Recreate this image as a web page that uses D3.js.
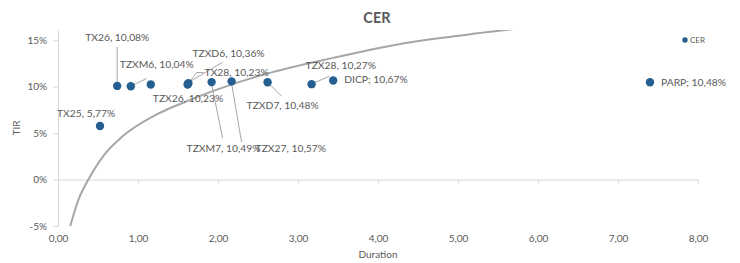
<!DOCTYPE html>
<html>
<head>
<meta charset="utf-8">
<script src="https://cdn.jsdelivr.net/npm/d3@7"></script>
<style>
	body { margin: 0; background: #fff; }
	text { font-family: Lato, "Open Sans", sans-serif; fill: #595959; }
</style>
</head>
<body>
<div id="chart"></div>
<script>
// bonds
const names = ['TX25', 'TX26', 'TZXM6', 'TZX26', 'TZXD6', 'TX28', 'TZXM7', 'TZX27', 'TZXD7', 'TZX28', 'DICP', 'PARP'];
const durations = [0.525, 0.74, 0.91, 1.16, 1.63, 1.62, 1.92, 2.17, 2.62, 3.17, 3.44, 7.40];
const tirs = [5.77, 10.08, 10.04, 10.23, 10.36, 10.23, 10.49, 10.57, 10.48, 10.27, 10.67, 10.48];
const separators = [', ', ', ', ', ', ', ', ', ', ', ', ', ', ', ', ', ', ', ', '; ', '; '];

// logarithmic trend line
const trendDur = [0.15, 0.25, 0.38, 0.59, 0.80, 1.21, 1.63, 1.96, 2.61, 3.44, 4.28, 5.11, 5.90];
const trendTir = [-5.1, -2.3, 0, 2.8, 4.6, 6.9, 8.5, 9.6, 11.4, 13.1, 14.6, 15.6, 16.4];

const xTicks = [0, 1, 2, 3, 4, 5, 6, 7, 8];
const yTicks = [-5, 0, 5, 10, 15];

// label placement (pixels from the point): text offset, leader line path
const labelLayout = [
	{ dx: -43, dy: -13, leader: null },
	{ dx: -32, dy: -49, leader: [[0, -4], [0, -39]] },
	{ dx: -11, dy: -22, leader: [[2, -1], [16, -8]] },
	{ dx: 2, dy: 14, leader: null },
	{ dx: 4, dy: -30, leader: [[2, -2], [34, -21]] },
	{ dx: 17, dy: -12, leader: [[3, -4], [9, -12], [16, -12]] },
	{ dx: -25, dy: 66, leader: [[0, 2], [11, 56]] },
	{ dx: 24, dy: 67, leader: [[0, 2], [10, 61]] },
	{ dx: -21, dy: 23, leader: [[2, 2], [14, 14]] },
	{ dx: -6, dy: -19, leader: [[2, -1], [18, -8]] },
	{ dx: 11, dy: -1, leader: null },
	{ dx: 11, dy: 0, leader: null }
];

const W = 740, H = 263;
const margin = { left: 58, right: 42, top: 30, bottom: 37 };

const svg = d3.select('#chart').append('svg')
	.attr('width', W)
	.attr('height', H);

const x = d3.scaleLinear().domain([0, 8]).range([margin.left, W - margin.right]);
const y = d3.scaleLinear().domain([-5, 16.1]).range([H - margin.bottom, margin.top]);

const fmt = v => v.toFixed(2).replace('.', ',');

//
// title
//
svg.append('text')
	.attr('x', 377).attr('y', 23)
	.attr('text-anchor', 'middle')
	.style('font-size', '14.5px')
	.style('font-weight', 'bold')
	.text('CER');

//
// axes
//
const yAxis = svg.append('g')
	.attr('transform', `translate(${margin.left},0)`)
	.call(d3.axisLeft(y).tickValues(yTicks).tickSize(5).tickSizeOuter(0).tickPadding(6).tickFormat(d => d + '%'));

const xAxis = svg.append('g')
	.attr('transform', `translate(0,${y(0)})`)
	.call(d3.axisBottom(x).tickValues(xTicks).tickSize(4).tickSizeOuter(0).tickFormat(''));

const xLabels = svg.append('g')
	.attr('transform', `translate(0,${y(-5)})`)
	.call(d3.axisBottom(x).tickValues(xTicks).tickSize(0).tickPadding(9).tickFormat(fmt));
xLabels.select('.domain').remove();

[yAxis, xAxis].forEach(g => {
	g.select('.domain').attr('stroke', '#d9d9d9');
	g.selectAll('.tick line').attr('stroke', '#d9d9d9');
});
[yAxis, xLabels].forEach(g => {
	g.selectAll('.tick text')
		.style('font-size', '10px')
		.style('font-family', 'Lato, sans-serif')
		.attr('fill', '#595959');
});

svg.append('text')
	.attr('transform', `translate(20,${(y(-5) + y(16.1)) / 2}) rotate(-90)`)
	.attr('text-anchor', 'middle')
	.style('font-size', '10px')
	.text('TIR');

svg.append('text')
	.attr('x', (x(0) + x(8)) / 2).attr('y', 258)
	.attr('text-anchor', 'middle')
	.style('font-size', '10px')
	.text('Duration');

//
// trend line
//
svg.append('clipPath').attr('id', 'plot')
	.append('rect')
	.attr('x', x(0)).attr('y', y(16.1))
	.attr('width', x(8) - x(0)).attr('height', y(-5) - y(16.1));

const line = d3.line()
	.x(d => x(d[0]))
	.y(d => y(d[1]))
	.curve(d3.curveMonotoneX);

svg.append('path')
	.datum(trendDur.map((d, i) => [d, trendTir[i]]))
	.attr('clip-path', 'url(#plot)')
	.attr('d', line)
	.attr('fill', 'none')
	.attr('stroke', '#a6a6a6')
	.attr('stroke-width', 2);

//
// leader lines, points, labels
//
const data = names.map((n, i) => ({
	name: n, dur: durations[i], tir: tirs[i], sep: separators[i], lay: labelLayout[i]
}));

svg.selectAll('.leader')
	.data(data.filter(d => d.lay.leader))
	.enter()
	.append('polyline')
	.attr('class', 'leader')
	.attr('points', d => d.lay.leader.map(p => [x(d.dur) + p[0], y(d.tir) + p[1]].join(',')).join(' '))
	.attr('fill', 'none')
	.attr('stroke', '#a6a6a6')
	.attr('stroke-width', 1);

svg.selectAll('.pt')
	.data(data)
	.enter()
	.append('circle')
	.attr('class', 'pt')
	.attr('cx', d => x(d.dur))
	.attr('cy', d => y(d.tir))
	.attr('r', 4.2)
	.style('fill', '#255e91');

svg.selectAll('.lbl')
	.data(data)
	.enter()
	.append('text')
	.attr('class', 'lbl')
	.attr('x', d => x(d.dur) + d.lay.dx)
	.attr('y', d => y(d.tir) + d.lay.dy)
	.attr('dy', '0.35em')
	.style('font-size', '10.3px')
	.text(d => d.name + d.sep + fmt(d.tir) + '%');

//
// legend
//
svg.append('circle')
	.attr('cx', 685).attr('cy', 40).attr('r', 2.7)
	.style('fill', '#255e91');
svg.append('text')
	.attr('x', 690).attr('y', 40).attr('dy', '0.35em')
	.style('font-size', '8px')
	.text('CER');
</script>
</body>
</html>
